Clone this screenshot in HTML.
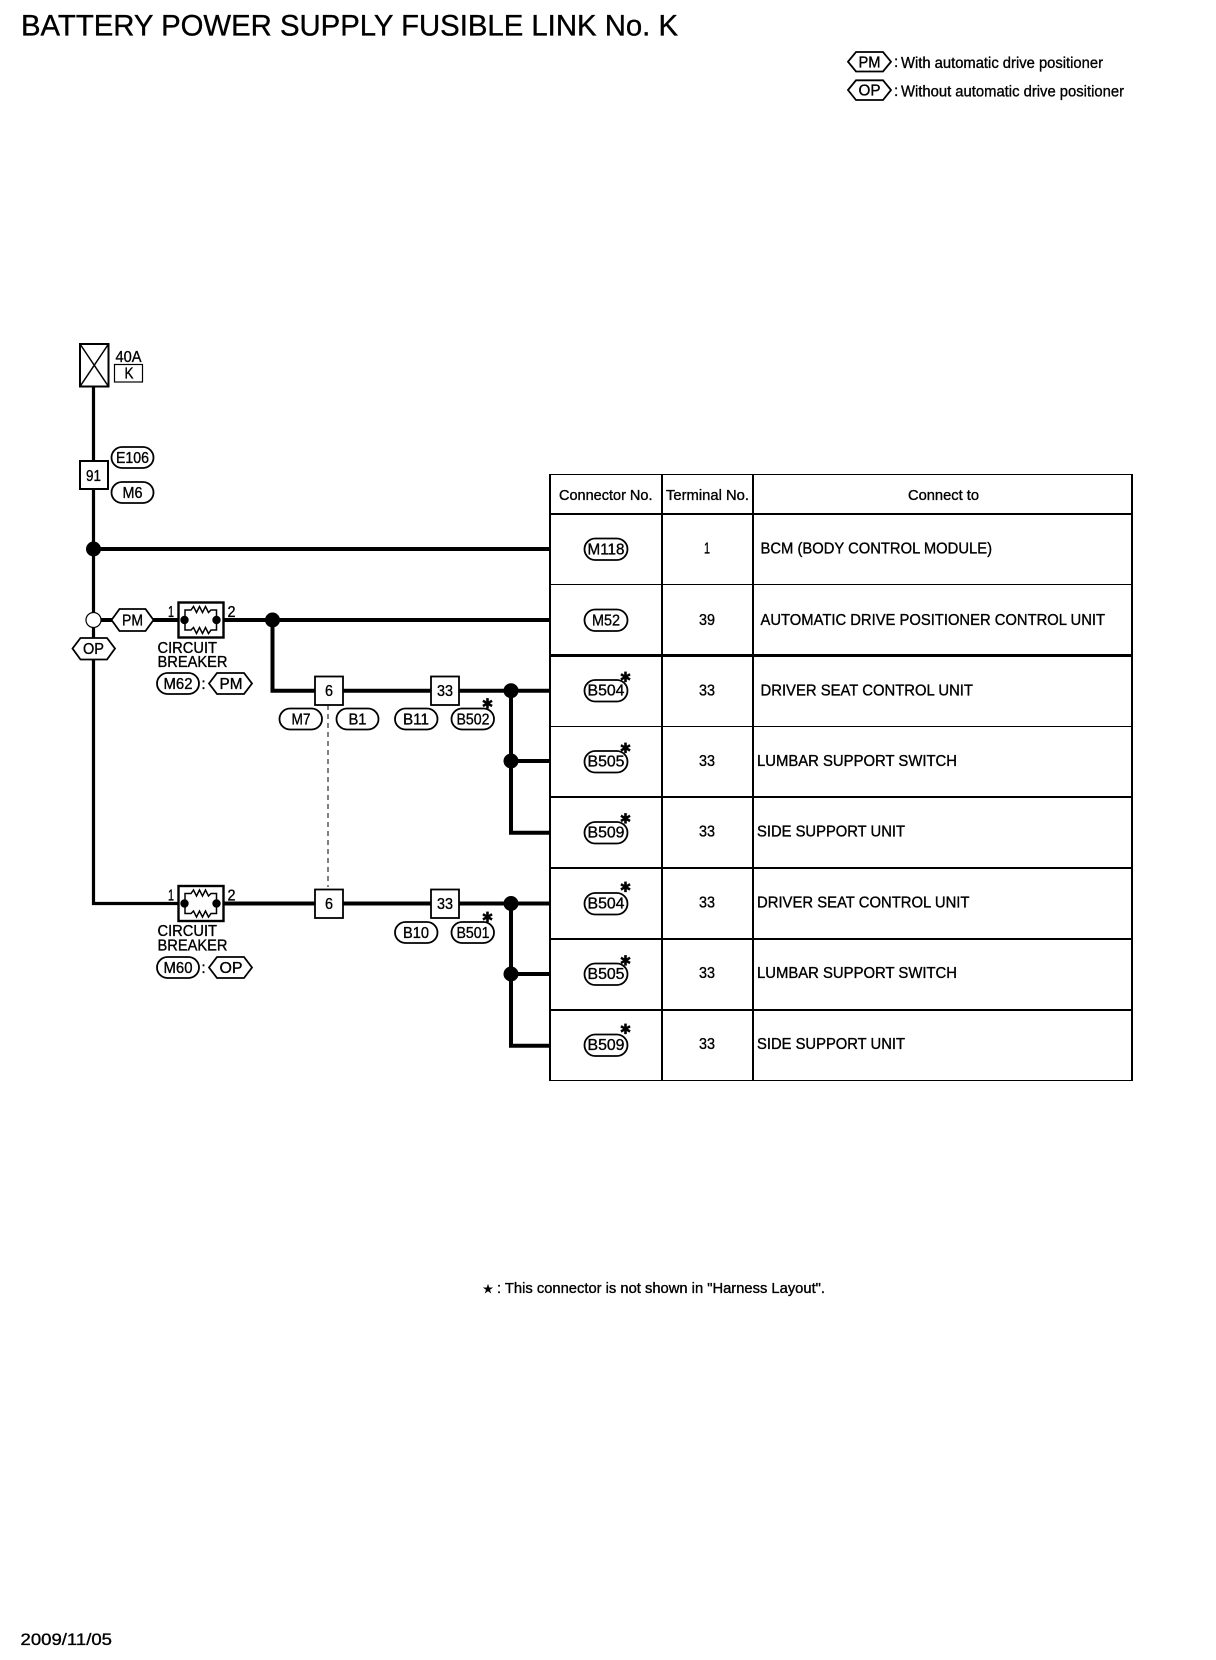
<!DOCTYPE html>
<html><head><meta charset="utf-8"><title>Battery Power Supply Fusible Link No. K</title>
<style>
html,body{margin:0;padding:0;background:#fff}
svg{display:block}
text{font-family:"Liberation Sans",sans-serif;fill:#000;font-size:15.5px;stroke:#000;stroke-width:.35px}
.c{text-anchor:middle}
.s{font-family:"DejaVu Sans",sans-serif;font-size:14px;text-anchor:middle}
.w{fill:none;stroke:#000;stroke-width:4}
.n{fill:none;stroke:#000;stroke-width:3.2}
.p{fill:#fff;stroke:#000;stroke-width:1.8}
.b{fill:#fff;stroke:#000;stroke-width:2}
.t{fill:none;stroke:#000;stroke-width:1.5}
</style></head><body>
<svg xmlns="http://www.w3.org/2000/svg" width="1216" height="1660" viewBox="0 0 1216 1660">
<rect width="1216" height="1660" fill="#fff"/>

<!-- title -->
<text x="21" y="35.5" style="font-size:29.5px" textLength="657" lengthAdjust="spacingAndGlyphs">BATTERY POWER SUPPLY FUSIBLE LINK No. K</text>

<!-- legend -->
<polygon class="p" points="848,61.7 856,52 883,52 891,61.7 883,71.5 856,71.5"/>
<text class="c" x="869.5" y="67.5" textLength="22" lengthAdjust="spacingAndGlyphs">PM</text>
<polygon class="p" points="848,90 856,80.3 883,80.3 891,90 883,100 856,100"/>
<text class="c" x="869.5" y="95.5" textLength="22" lengthAdjust="spacingAndGlyphs">OP</text>
<text x="894" y="67">:</text>
<text x="894" y="96">:</text>
<text x="901" y="68" textLength="202" lengthAdjust="spacingAndGlyphs">With automatic drive positioner</text>
<text x="901" y="96.5" textLength="223" lengthAdjust="spacingAndGlyphs">Without automatic drive positioner</text>

<!-- main wires -->
<path class="n" d="M93.5 386V903.5H178"/>
<path class="w" d="M93.5 549H550"/>
<path class="w" d="M93.5 620H178M224 620H550"/>
<path class="w" d="M272.5 620V690.7H550"/>
<path class="w" d="M511 690.7V832.7H550M511 761H550"/>
<path class="w" d="M224 903.5H550"/>
<path class="w" d="M511 903.5V1045.7H550M511 974H550"/>
<path d="M328 705V887" fill="none" stroke="#000" stroke-width="1" stroke-dasharray="5 4"/>

<!-- fuse -->
<rect x="80" y="344" width="28.5" height="42.5" fill="#fff" stroke="#000" stroke-width="2"/>
<path d="M80 344L108.5 386.5M108.5 344L80 386.5" stroke="#000" stroke-width="1.5" fill="none"/>
<text class="c" x="128.5" y="362" textLength="26" lengthAdjust="spacingAndGlyphs">40A</text>
<rect x="114.5" y="364.5" width="28" height="17.5" fill="#fff" stroke="#000" stroke-width="1.2"/>
<text class="c" x="129" y="378.5" textLength="9" lengthAdjust="spacingAndGlyphs">K</text>

<!-- 91 -->
<rect class="b" x="80" y="461" width="28" height="28"/>
<text class="c" x="93.5" y="481" style="font-size:16px" textLength="15" lengthAdjust="spacingAndGlyphs">91</text>
<rect class="p" x="111.5" y="447" width="42" height="21" rx="10.5"/>
<text class="c" x="132.5" y="463" textLength="33" lengthAdjust="spacingAndGlyphs">E106</text>
<rect class="p" x="111.5" y="482" width="42" height="21" rx="10.5"/>
<text class="c" x="132.5" y="498" textLength="20" lengthAdjust="spacingAndGlyphs">M6</text>

<!-- junctions -->
<circle cx="93.5" cy="549" r="7.5"/>
<circle cx="93.5" cy="620" r="7.5" fill="#fff" stroke="#000" stroke-width="1.2"/>
<circle cx="272.5" cy="620" r="7.5"/>
<circle cx="511" cy="690.7" r="7.5"/>
<circle cx="511" cy="761" r="7.5"/>
<circle cx="511" cy="903.5" r="7.5"/>
<circle cx="511" cy="974" r="7.5"/>

<!-- PM / OP hex on wire -->
<polygon class="p" points="111.5,620 119.5,609 145.5,609 153.5,620 145.5,631 119.5,631"/>
<text class="c" x="132.5" y="625.5" textLength="21" lengthAdjust="spacingAndGlyphs">PM</text>
<polygon class="p" points="72.5,648.5 80.5,638 107,638 115,648.5 107,659.5 80.5,659.5"/>
<text class="c" x="93.5" y="654" textLength="21" lengthAdjust="spacingAndGlyphs">OP</text>

<!-- breaker 1 -->
<rect x="178.5" y="602.5" width="45" height="35" fill="#fff" stroke="#000" stroke-width="2.4"/>
<path class="t" d="M185 620V610H191L193.5 606.5L196.5 612.5L199.5 606.5L202.5 612.5L205.5 606.5L208.5 612.5L211 610H216.5V620V630H211L208.5 633.5L205.5 627.5L202.5 633.5L199.5 627.5L196.5 633.5L193.5 627.5L191 630H185Z"/>
<circle cx="184.5" cy="620" r="4.2"/><circle cx="216.5" cy="620" r="4.2"/>
<text class="c" x="171" y="617" textLength="6" lengthAdjust="spacingAndGlyphs">1</text>
<text class="c" x="231.5" y="617" textLength="8" lengthAdjust="spacingAndGlyphs">2</text>
<text x="157.5" y="653" textLength="59.5" lengthAdjust="spacingAndGlyphs">CIRCUIT</text>
<text x="157.5" y="667" textLength="70" lengthAdjust="spacingAndGlyphs">BREAKER</text>
<rect class="p" x="157" y="673" width="42" height="21" rx="10.5"/>
<text class="c" x="178" y="689" textLength="29" lengthAdjust="spacingAndGlyphs">M62</text>
<text class="c" x="203.5" y="689">:</text>
<polygon class="p" points="209,683.5 217,673 244,673 252,683.5 244,694 217,694"/>
<text class="c" x="231" y="689" textLength="23" lengthAdjust="spacingAndGlyphs">PM</text>

<!-- breaker 2 -->
<rect x="178.5" y="886" width="45" height="35" fill="#fff" stroke="#000" stroke-width="2.4"/>
<path class="t" d="M185 903.5V893.5H191L193.5 890L196.5 896L199.5 890L202.5 896L205.5 890L208.5 896L211 893.5H216.5V903.5V913.5H211L208.5 917L205.5 911L202.5 917L199.5 911L196.5 917L193.5 911L191 913.5H185Z"/>
<circle cx="184.5" cy="903.5" r="4.2"/><circle cx="216.5" cy="903.5" r="4.2"/>
<text class="c" x="171" y="900.5" textLength="6" lengthAdjust="spacingAndGlyphs">1</text>
<text class="c" x="231.5" y="900.5" textLength="8" lengthAdjust="spacingAndGlyphs">2</text>
<text x="157.5" y="936" textLength="59.5" lengthAdjust="spacingAndGlyphs">CIRCUIT</text>
<text x="157.5" y="950.5" textLength="70" lengthAdjust="spacingAndGlyphs">BREAKER</text>
<rect class="p" x="157" y="957" width="42" height="21" rx="10.5"/>
<text class="c" x="178" y="973" textLength="29" lengthAdjust="spacingAndGlyphs">M60</text>
<text class="c" x="203.5" y="973">:</text>
<polygon class="p" points="209,967.5 217,957 244,957 252,967.5 244,978 217,978"/>
<text class="c" x="231" y="973" textLength="23" lengthAdjust="spacingAndGlyphs">OP</text>

<!-- terminal boxes upper -->
<rect class="p" x="315" y="676.5" width="28" height="28.5"/>
<text class="c" x="329" y="696" style="font-size:16px" textLength="8" lengthAdjust="spacingAndGlyphs">6</text>
<rect class="p" x="431" y="676.5" width="28" height="28.5"/>
<text class="c" x="445" y="696" textLength="16" lengthAdjust="spacingAndGlyphs">33</text>
<rect class="p" x="279.5" y="708.5" width="42.5" height="21" rx="10.5"/>
<text class="c" x="301" y="724.5" textLength="19" lengthAdjust="spacingAndGlyphs">M7</text>
<rect class="p" x="336.5" y="708.5" width="42" height="21" rx="10.5"/>
<text class="c" x="357.5" y="724.5" textLength="18" lengthAdjust="spacingAndGlyphs">B1</text>
<rect class="p" x="395" y="708.5" width="42.5" height="21" rx="10.5"/>
<text class="c" x="416" y="724.5" textLength="26" lengthAdjust="spacingAndGlyphs">B11</text>
<rect class="p" x="451.5" y="708.5" width="42.5" height="21" rx="10.5"/>
<text class="c" x="473" y="724.5" textLength="33" lengthAdjust="spacingAndGlyphs">B502</text>
<text class="s" x="487.5" y="708.5">✱</text>

<!-- terminal boxes lower -->
<rect class="p" x="315" y="889.5" width="28" height="28.5"/>
<text class="c" x="329" y="909" style="font-size:16px" textLength="8" lengthAdjust="spacingAndGlyphs">6</text>
<rect class="p" x="431" y="889.5" width="28" height="28.5"/>
<text class="c" x="445" y="909" textLength="16" lengthAdjust="spacingAndGlyphs">33</text>
<rect class="p" x="395" y="922" width="42.5" height="21" rx="10.5"/>
<text class="c" x="416" y="938" textLength="26" lengthAdjust="spacingAndGlyphs">B10</text>
<rect class="p" x="451.5" y="922" width="42.5" height="21" rx="10.5"/>
<text class="c" x="473" y="938" textLength="33" lengthAdjust="spacingAndGlyphs">B501</text>
<text class="s" x="487.5" y="922">✱</text>

<!-- table -->
<g fill="#000" shape-rendering="crispEdges">
<rect x="550" y="474" width="583" height="1"/>
<rect x="550" y="513" width="583" height="2"/>
<rect x="550" y="584" width="583" height="1"/>
<rect x="550" y="654" width="583" height="3"/>
<rect x="550" y="726" width="583" height="1"/>
<rect x="550" y="796" width="583" height="2"/>
<rect x="550" y="867" width="583" height="2"/>
<rect x="550" y="938" width="583" height="2"/>
<rect x="550" y="1009" width="583" height="2"/>
<rect x="550" y="1080" width="583" height="1"/>
<rect x="549" y="474" width="2" height="607"/>
<rect x="661" y="474" width="2" height="607"/>
<rect x="752" y="474" width="2" height="607"/>
<rect x="1131" y="474" width="2" height="607"/>
</g>
<text x="559" y="500" style="font-size:14.5px" textLength="93.5" lengthAdjust="spacingAndGlyphs">Connector No.</text>
<text x="666" y="500" style="font-size:14.5px" textLength="83" lengthAdjust="spacingAndGlyphs">Terminal No.</text>
<text x="908" y="500" style="font-size:14.5px" textLength="71" lengthAdjust="spacingAndGlyphs">Connect to</text>

<rect class="p" x="584.5" y="538.5" width="43" height="21.5" rx="10.7"/>
<text class="c" x="606" y="554.5" textLength="37" lengthAdjust="spacingAndGlyphs">M118</text>
<text class="c" x="707" y="553.5" textLength="6" lengthAdjust="spacingAndGlyphs">1</text>
<text x="760.5" y="553.5" textLength="231.5" lengthAdjust="spacingAndGlyphs">BCM (BODY CONTROL MODULE)</text>

<rect class="p" x="584.5" y="609.5" width="43" height="21.5" rx="10.7"/>
<text class="c" x="606" y="625.5" textLength="28" lengthAdjust="spacingAndGlyphs">M52</text>
<text class="c" x="707" y="625" textLength="16" lengthAdjust="spacingAndGlyphs">39</text>
<text x="760.5" y="625" textLength="344.5" lengthAdjust="spacingAndGlyphs">AUTOMATIC DRIVE POSITIONER CONTROL UNIT</text>

<rect class="p" x="584.5" y="680" width="43" height="21.5" rx="10.7"/>
<text class="c" x="606" y="695.5" textLength="37" lengthAdjust="spacingAndGlyphs">B504</text>
<text class="s" x="625.5" y="682">✱</text>
<text class="c" x="707" y="695.5" textLength="16" lengthAdjust="spacingAndGlyphs">33</text>
<text x="760.5" y="695.5" textLength="212.5" lengthAdjust="spacingAndGlyphs">DRIVER SEAT CONTROL UNIT</text>

<rect class="p" x="584.5" y="751" width="43" height="21.5" rx="10.7"/>
<text class="c" x="606" y="766.5" textLength="37" lengthAdjust="spacingAndGlyphs">B505</text>
<text class="s" x="625.5" y="752.8">✱</text>
<text class="c" x="707" y="766" textLength="16" lengthAdjust="spacingAndGlyphs">33</text>
<text x="757" y="766" textLength="200" lengthAdjust="spacingAndGlyphs">LUMBAR SUPPORT SWITCH</text>

<rect class="p" x="584.5" y="822" width="43" height="21.5" rx="10.7"/>
<text class="c" x="606" y="837.5" textLength="37" lengthAdjust="spacingAndGlyphs">B509</text>
<text class="s" x="625.5" y="823.5">✱</text>
<text class="c" x="707" y="836.5" textLength="16" lengthAdjust="spacingAndGlyphs">33</text>
<text x="757" y="836.5" textLength="148" lengthAdjust="spacingAndGlyphs">SIDE SUPPORT UNIT</text>

<rect class="p" x="584.5" y="893" width="43" height="21.5" rx="10.7"/>
<text class="c" x="606" y="908.5" textLength="37" lengthAdjust="spacingAndGlyphs">B504</text>
<text class="s" x="625.5" y="892">✱</text>
<text class="c" x="707" y="907.5" textLength="16" lengthAdjust="spacingAndGlyphs">33</text>
<text x="757" y="907.5" textLength="212.5" lengthAdjust="spacingAndGlyphs">DRIVER SEAT CONTROL UNIT</text>

<rect class="p" x="584.5" y="963.5" width="43" height="21.5" rx="10.7"/>
<text class="c" x="606" y="979" textLength="37" lengthAdjust="spacingAndGlyphs">B505</text>
<text class="s" x="625.5" y="965.5">✱</text>
<text class="c" x="707" y="978" textLength="16" lengthAdjust="spacingAndGlyphs">33</text>
<text x="757" y="978" textLength="200" lengthAdjust="spacingAndGlyphs">LUMBAR SUPPORT SWITCH</text>

<rect class="p" x="584.5" y="1034.5" width="43" height="21.5" rx="10.7"/>
<text class="c" x="606" y="1050" textLength="37" lengthAdjust="spacingAndGlyphs">B509</text>
<text class="s" x="625.5" y="1034">✱</text>
<text class="c" x="707" y="1049" textLength="16" lengthAdjust="spacingAndGlyphs">33</text>
<text x="757" y="1049" textLength="148" lengthAdjust="spacingAndGlyphs">SIDE SUPPORT UNIT</text>

<!-- footnote -->
<text class="s" x="488" y="1293" style="font-size:12px">★</text>
<text x="497" y="1293" style="font-size:14.5px" textLength="328" lengthAdjust="spacingAndGlyphs">: This connector is not shown in "Harness Layout".</text>
<text x="20.5" y="1645" style="font-size:17px" textLength="91.5" lengthAdjust="spacingAndGlyphs">2009/11/05</text>
</svg>
</body></html>
